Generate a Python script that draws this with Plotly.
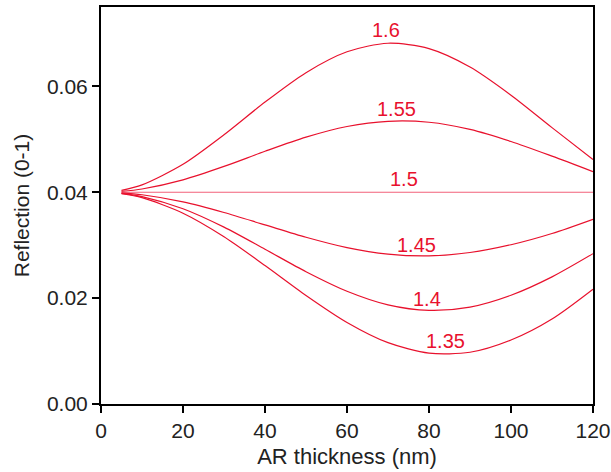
import plotly.graph_objects as go

thickness = [5, 10, 20, 30, 40, 50, 60, 70, 80, 90, 100, 110, 120]

r_160 = [0.04035, 0.04139, 0.04528, 0.05086, 0.05704, 0.06260, 0.06654, 0.06815, 0.06713, 0.06365, 0.05833, 0.05221, 0.04620]
r_155 = [0.04016, 0.04062, 0.04235, 0.04488, 0.04774, 0.05041, 0.05242, 0.05341, 0.05323, 0.05188, 0.04959, 0.04682, 0.04390]
r_150 = [0.04000, 0.04000, 0.04000, 0.04000, 0.04000, 0.04000, 0.04000, 0.04000, 0.04000, 0.04000, 0.04000, 0.04000, 0.04000]
r_145 = [0.03988, 0.03953, 0.03819, 0.03618, 0.03384, 0.03151, 0.02955, 0.02832, 0.02798, 0.02862, 0.03009, 0.03221, 0.03490]
r_140 = [0.03980, 0.03919, 0.03689, 0.03341, 0.02924, 0.02499, 0.02130, 0.01873, 0.01769, 0.01831, 0.02055, 0.02402, 0.02840]
r_135 = [0.03974, 0.03898, 0.03605, 0.03160, 0.02616, 0.02051, 0.01541, 0.01159, 0.00961, 0.00978, 0.01210, 0.01607, 0.02170]

series = [("1.6", r_160), ("1.55", r_155), ("1.5", r_150),
          ("1.45", r_145), ("1.4", r_140), ("1.35", r_135)]

label_x = [69.5, 72, 74, 77, 79.5, 84]
label_y = [0.0706, 0.0557, 0.0426, 0.0300, 0.0198, 0.0119]

RED = "#e8112d"
FONT = "Liberation Sans, Arial, sans-serif"
fig = go.Figure()
for name, vals in series:
    color = "#f2607a" if name == "1.5" else RED
    fig.add_trace(go.Scatter(x=thickness, y=vals, mode="lines", name=name,
                             line=dict(color=color, width=1.2, shape="spline", smoothing=0.8),
                             showlegend=False, hoverinfo="skip"))

for (name, _), lx, ly in zip(series, label_x, label_y):
    fig.add_annotation(x=lx, y=ly, text=name, showarrow=False,
                       font=dict(color=RED, size=20, family=FONT))

axis_common = dict(showline=True, linecolor="black", linewidth=2, mirror=True,
                   ticks="outside", ticklen=7, tickwidth=2, tickcolor="black",
                   showgrid=False, zeroline=False, automargin=False,
                   tickfont=dict(size=21, color="#222", family=FONT))

fig.update_layout(
    width=611, height=472,
    margin=dict(l=101, r=18, t=7, b=68),
    plot_bgcolor="white", paper_bgcolor="white",
    font=dict(family=FONT, color="#222"),
    xaxis=dict(range=[0, 120], tickvals=[0, 20, 40, 60, 80, 100, 120],
               title=dict(text="AR thickness (nm)", font=dict(size=22), standoff=7),
               **axis_common),
    yaxis=dict(range=[0, 0.075], tickvals=[0, 0.02, 0.04, 0.06], tickformat=".2f",
               title=dict(text="Reflection (0-1)", font=dict(size=21), standoff=12),
               **axis_common),
)

fig.write_html("out.html", config={"displayModeBar": False},
               post_script="document.body.style.margin='0';document.body.style.overflow='hidden';")
